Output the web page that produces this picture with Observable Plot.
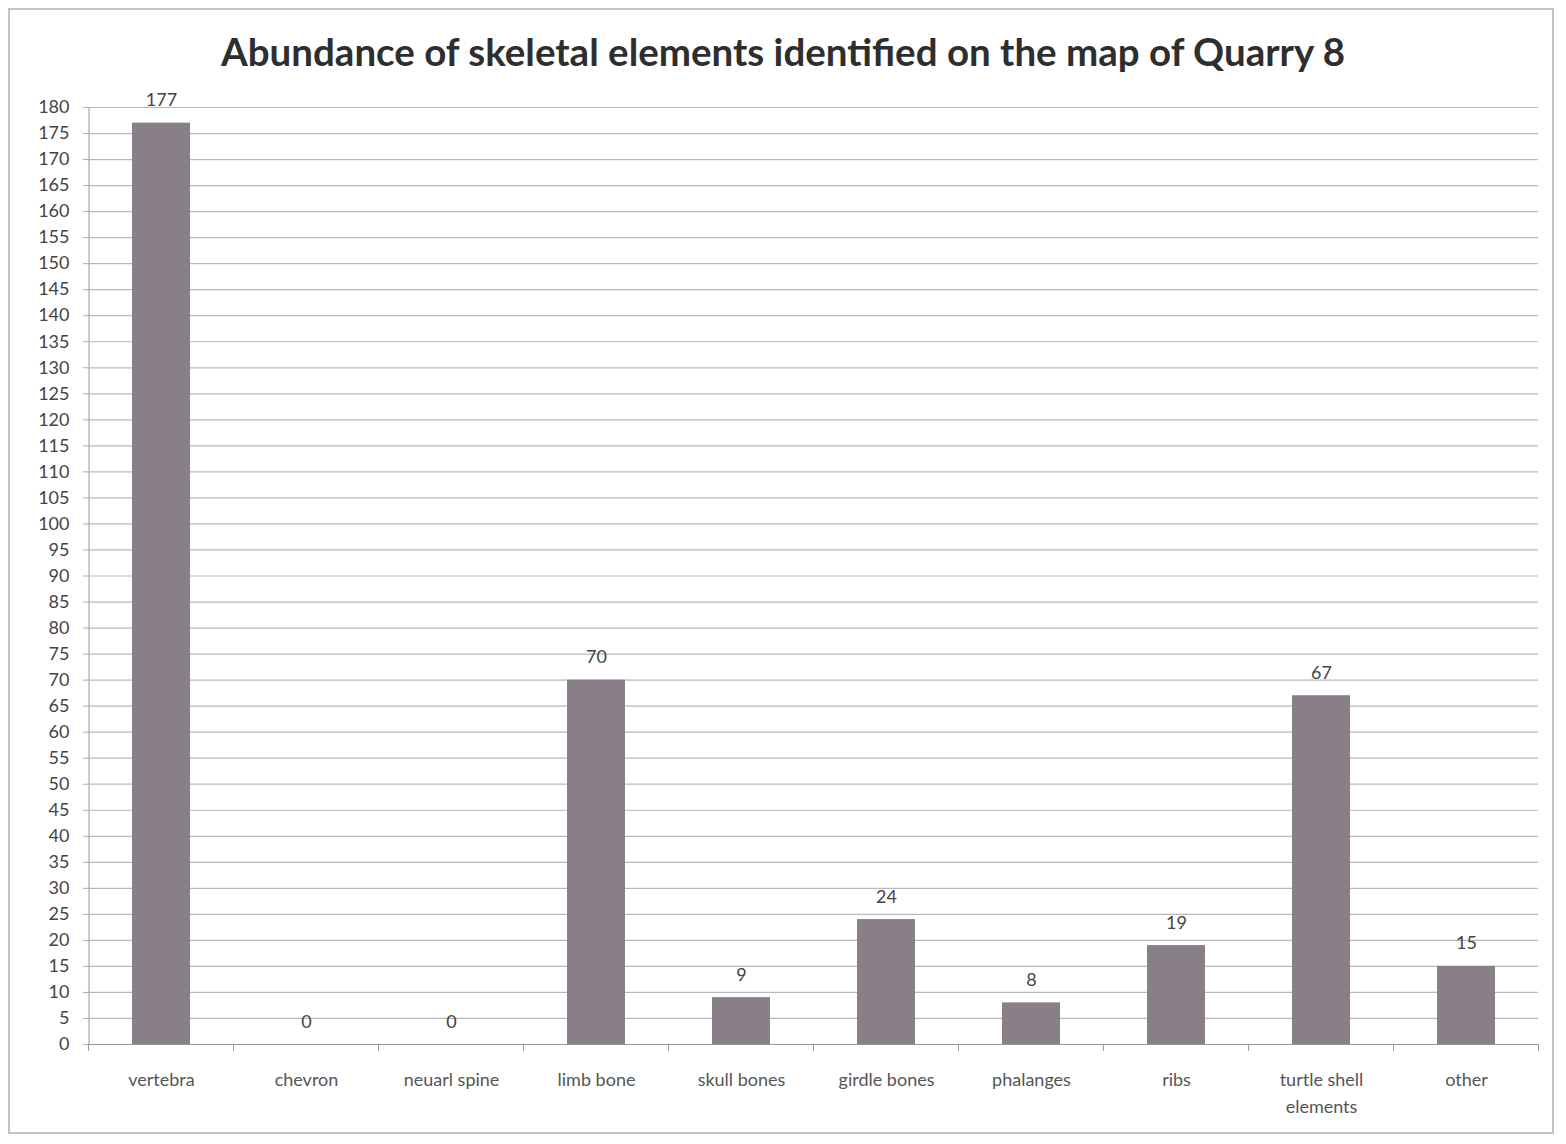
<!DOCTYPE html>
<html>
<head>
<meta charset="utf-8">
<script src="https://cdn.jsdelivr.net/npm/d3@7"></script>
<script src="https://cdn.jsdelivr.net/npm/@observablehq/plot@0.6"></script>
<style>
  html, body { margin: 0; padding: 0; background: #fff; }
  #wrap { position: relative; width: 1566px; height: 1144px; overflow: hidden; }
  #frame { position: absolute; left: 8px; top: 8px; width: 1546px; height: 1126px; border: 2px solid #c4c4c4; box-sizing: border-box; }
  #title { position: absolute; left: 0; width: 1566px; top: 28px; text-align: center; font-family: Lato, sans-serif; font-weight: bold; font-size: 38.5px; color: #2e2e2e; }
  #chart { position: absolute; left: 0; top: 70px; }
</style>
</head>
<body>
<div id="wrap">
  <div id="frame"></div>
  <div id="title">Abundance of skeletal elements identified on the map of Quarry 8</div>
  <div id="chart"></div>
</div>
<script>
const categories = ["vertebra", "chevron", "neuarl spine", "limb bone", "skull bones", "girdle bones", "phalanges", "ribs", "turtle shell\nelements", "other"];
const counts = [177, 0, 0, 70, 9, 24, 8, 19, 67, 15];
const yTicks = d3.range(0, 181, 5);

const data = categories.map((c, i) => ({category: c, count: counts[i]}));
const boundaries = categories.map(c => ({category: c, side: -1})).concat([{category: categories[categories.length - 1], side: 1}]);

const W = 1566, H = 1074;
const mL = 88, mR = 28;
const bw = (W - mL - mR) / categories.length;
const padInner = 0.6;

const chart = Plot.plot({
  width: W,
  height: H,
  marginLeft: mL,
  marginRight: mR,
  marginTop: 37,
  marginBottom: 100,
  style: {fontFamily: "Lato, sans-serif", fontSize: "18px", color: "#444", background: "transparent"},
  x: {domain: categories, paddingInner: padInner, paddingOuter: padInner / 2, label: null},
  y: {domain: [0, 180], ticks: yTicks, label: null},
  marks: [
    Plot.ruleY(yTicks, {y: d => d, stroke: "#b8b8b8", strokeWidth: 1.2}),
    Plot.barY(data, {x: "category", y: "count", fill: "#897f88"}),
    Plot.text(data, {x: "category", y: "count", text: d => String(d.count), lineAnchor: "bottom", dy: -17, fill: "#444", fontSize: 18}),
    Plot.ruleX(boundaries, {x: "category", y1: 0, y2: 0, stroke: "#999", render: (index, scales, values) => {
      const g = d3.create("svg:g");
      const y0 = scales.y(0);
      for (const i of index) {
        const d = boundaries[i];
        const xx = values.x[i] + bw * (1 - padInner) / 2 + d.side * (bw / 2);
        g.append("line").attr("x1", xx).attr("x2", xx).attr("y1", y0).attr("y2", y0 + 7).attr("stroke", "#999");
      }
      return g.node();
    }}),
    Plot.ruleY([0], {stroke: "#999", strokeWidth: 1.2}),
    Plot.ruleX([categories[0]], {x: d => d, dx: -bw / 2, y1: 0, y2: 180, stroke: "#aaa", strokeWidth: 1.2}),
    Plot.axisY({ticks: yTicks, tickSize: 5, tickPadding: 14, fontSize: 18, stroke: "#aaa", fill: "#444"}),
    Plot.axisX({tickSize: 0, tickPadding: 22, fontSize: 18, fill: "#555", lineHeight: 1.5})
  ]
});
document.getElementById("chart").appendChild(chart);
</script>
</body>
</html>
